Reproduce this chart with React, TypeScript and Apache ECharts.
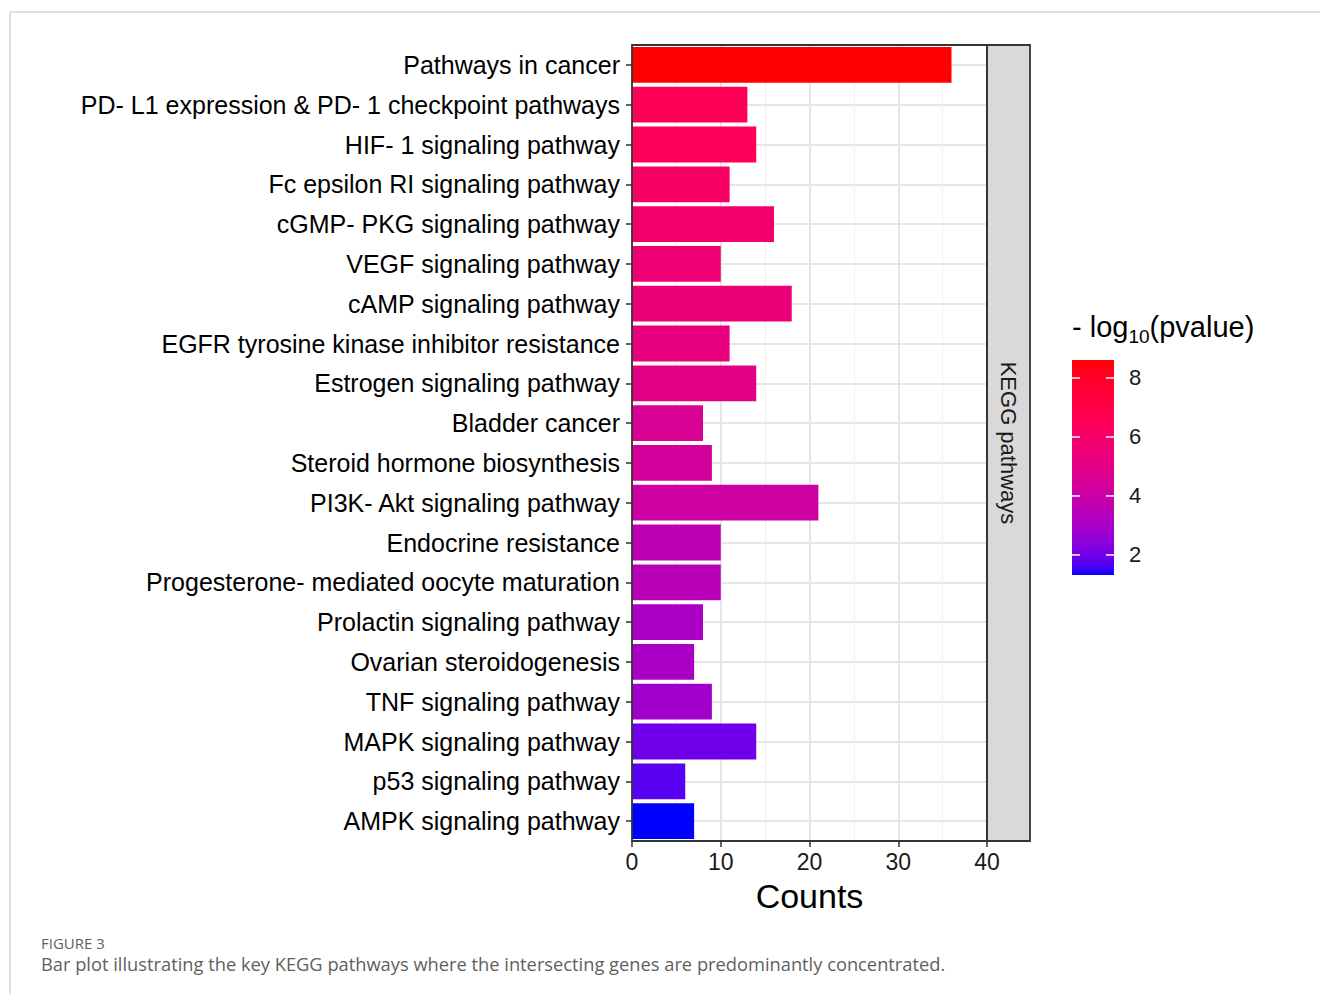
import React, { useEffect, useRef } from "react";
import * as echarts from "echarts";

// KEGG pathways, top to bottom
const pathways = [
  "Pathways in cancer",
  "PD- L1 expression & PD- 1 checkpoint pathways",
  "HIF- 1 signaling pathway",
  "Fc epsilon RI signaling pathway",
  "cGMP- PKG signaling pathway",
  "VEGF signaling pathway",
  "cAMP signaling pathway",
  "EGFR tyrosine kinase inhibitor resistance",
  "Estrogen signaling pathway",
  "Bladder cancer",
  "Steroid hormone biosynthesis",
  "PI3K- Akt signaling pathway",
  "Endocrine resistance",
  "Progesterone- mediated oocyte maturation",
  "Prolactin signaling pathway",
  "Ovarian steroidogenesis",
  "TNF signaling pathway",
  "MAPK signaling pathway",
  "p53 signaling pathway",
  "AMPK signaling pathway",
];
const counts = [36, 13, 14, 11, 16, 10, 18, 11, 14, 8, 9, 21, 10, 10, 8, 7, 9, 14, 6, 7];
const negLog10P = [
  8.61, 6.66, 6.5, 6.13, 5.88, 5.62, 5.44, 5.26, 5.06, 4.6, 4.35, 4.16, 3.65, 3.47, 3.11,
  3.07, 2.85, 1.98, 1.72, 1.32,
];
const countMin = 0;
const countMax = 40;
const countStep = 10;
const legendTicks = [2, 4, 6, 8];

const FONT = "'Liberation Sans', Arial, Helvetica, sans-serif";
const CAPTION_FONT = "'Open Sans', sans-serif";

// blue -> red gradient interpolated in CIELAB, with a slightly warmed red channel
const LAB_LOW = [32.303, 79.197, -107.864];
const LAB_HIGH = [53.241, 80.092, 67.203];
const RED_GAIN = 1.12;

function labToHex(lab: number[]): string {
  const [L, a, b] = lab;
  const fy = (L + 16) / 116;
  const fx = fy + a / 500;
  const fz = fy - b / 200;
  const inv = (f: number) => (f * f * f > 0.008856 ? f * f * f : (f - 16 / 116) / 7.787);
  const X = 0.95047 * inv(fx);
  const Y = inv(fy);
  const Z = 1.08883 * inv(fz);
  const lin = [
    3.2406 * X - 1.5372 * Y - 0.4986 * Z,
    -0.9689 * X + 1.8758 * Y + 0.0415 * Z,
    0.0557 * X - 0.204 * Y + 1.057 * Z,
  ];
  const hex = lin
    .map((c, k) => {
      const v = Math.min(1, Math.max(0, c));
      const s = v <= 0.0031308 ? 12.92 * v : 1.055 * Math.pow(v, 1 / 2.4) - 0.055;
      const byte = Math.min(255, Math.round(s * 255 * (k === 0 ? RED_GAIN : 1)));
      return byte.toString(16).padStart(2, "0");
    })
    .join("");
  return "#" + hex;
}

const RAMP_STEPS = 33;
const ramp: string[] = [];
for (let i = 0; i < RAMP_STEPS; i++) {
  const t = i / (RAMP_STEPS - 1);
  ramp.push(labToHex(LAB_LOW.map((v, k) => v + (LAB_HIGH[k] - v) * t)));
}

const pMin = Math.min(...negLog10P);
const pMax = Math.max(...negLog10P);

// layout
const G_LEFT = 632;
const G_TOP = 45;
const G_W = 355;
const G_H = 796;
const STRIP_W = 43;
const LEG_X = 1072;
const LEG_Y = 360;
const LEG_W = 42;
const LEG_H = 215;

export default function App() {
  const ref = useRef<HTMLDivElement>(null);

  useEffect(() => {
    if (!ref.current) return;
    const chart = echarts.init(ref.current, null, { renderer: "svg" });

    const legendY = (v: number) => LEG_Y + LEG_H - ((v - pMin) / (pMax - pMin)) * LEG_H;

    const legendGraphics: any[] = [
      {
        type: "rect",
        shape: { x: LEG_X, y: LEG_Y, width: LEG_W, height: LEG_H },
        style: {
          fill: new echarts.graphic.LinearGradient(
            0,
            1,
            0,
            0,
            ramp.map((c, i) => ({ offset: i / (ramp.length - 1), color: c }))
          ),
        },
      },
    ];
    legendTicks.forEach((v) => {
      const y = legendY(v);
      legendGraphics.push(
        {
          type: "line",
          shape: { x1: LEG_X, y1: y, x2: LEG_X + 8, y2: y },
          style: { stroke: "#ffffff", lineWidth: 1.5 },
        },
        {
          type: "line",
          shape: { x1: LEG_X + LEG_W - 8, y1: y, x2: LEG_X + LEG_W, y2: y },
          style: { stroke: "#ffffff", lineWidth: 1.5 },
        },
        {
          type: "text",
          x: LEG_X + LEG_W + 15,
          y,
          style: {
            text: String(v),
            fontSize: 22,
            fontFamily: FONT,
            fill: "#1a1a1a",
            verticalAlign: "middle",
            align: "left",
          },
        }
      );
    });

    chart.setOption({
      animation: false,
      backgroundColor: "#ffffff",
      grid: { left: G_LEFT, top: G_TOP, width: G_W, height: G_H, containLabel: false },
      visualMap: {
        type: "continuous",
        show: false,
        min: pMin,
        max: pMax,
        dimension: 2,
        seriesIndex: 0,
        inRange: { color: ramp },
      },
      xAxis: {
        type: "value",
        min: countMin,
        max: countMax,
        interval: countStep,
        axisLine: { show: false },
        axisTick: { show: true, length: 6, lineStyle: { color: "#333333", width: 1.5 } },
        axisLabel: { fontSize: 23, color: "#1a1a1a", fontFamily: FONT, margin: 9 },
        splitLine: { show: true, lineStyle: { color: "#E6E6E6", width: 2 } },
        minorTick: { show: false, splitNumber: 2 },
        minorSplitLine: { show: true, lineStyle: { color: "#EFEFEF", width: 1 } },
        name: "Counts",
        nameLocation: "middle",
        nameGap: 38,
        nameTextStyle: { fontSize: 34, color: "#000000", fontFamily: FONT },
      },
      yAxis: {
        type: "category",
        data: pathways,
        inverse: true,
        axisLine: { show: false },
        axisTick: {
          show: true,
          alignWithLabel: true,
          length: 6,
          lineStyle: { color: "#333333", width: 1.5 },
        },
        axisLabel: { fontSize: 25, color: "#000000", fontFamily: FONT, margin: 12 },
        splitLine: {
          show: true,
          alignWithLabel: true,
          lineStyle: { color: "#E6E6E6", width: 2 },
        },
      },
      series: [
        {
          type: "bar",
          data: pathways.map((p, i) => [counts[i], p, negLog10P[i]]),
          encode: { x: 0, y: 1 },
          barCategoryGap: "10%",
          z: 3,
        },
      ],
      graphic: [
        // figure frame
        {
          type: "line",
          shape: { x1: 10, y1: 12, x2: 1320, y2: 12 },
          style: { stroke: "#D6D6D6", lineWidth: 1.5 },
        },
        {
          type: "line",
          shape: { x1: 10, y1: 12, x2: 10, y2: 994 },
          style: { stroke: "#D6D6D6", lineWidth: 1.5 },
        },
        // facet strip
        {
          type: "rect",
          shape: { x: G_LEFT + G_W, y: G_TOP, width: STRIP_W, height: G_H },
          style: { fill: "#D9D9D9", stroke: "#333333", lineWidth: 1.8 },
          z: 10,
        },
        {
          type: "text",
          x: G_LEFT + G_W + STRIP_W / 2,
          y: G_TOP + G_H / 2,
          rotation: -Math.PI / 2,
          style: {
            text: "KEGG pathways",
            fontSize: 22,
            fontFamily: FONT,
            fill: "#1a1a1a",
            align: "center",
            verticalAlign: "middle",
          },
          z: 11,
        },
        // panel border
        {
          type: "rect",
          shape: { x: G_LEFT, y: G_TOP, width: G_W, height: G_H },
          style: { fill: "none", stroke: "#333333", lineWidth: 1.8 },
          z: 10,
        },
        // colour bar title
        {
          type: "text",
          x: LEG_X,
          y: 312,
          style: {
            text: "{m|- log}{s|10}{m|(pvalue)}",
            fontFamily: FONT,
            fill: "#000000",
            rich: {
              m: { fontSize: 29, fontFamily: FONT, lineHeight: 30, verticalAlign: "top" },
              s: {
                fontSize: 19,
                fontFamily: FONT,
                lineHeight: 19,
                padding: [15, 0, 0, 0],
                verticalAlign: "top",
              },
            },
          },
        },
        ...legendGraphics,
        // caption
        {
          type: "text",
          x: 41,
          y: 943,
          style: {
            text: "FIGURE 3",
            fontSize: 15,
            fontFamily: CAPTION_FONT,
            fill: "#5f5f5f",
            verticalAlign: "middle",
          },
        },
        {
          type: "text",
          x: 41,
          y: 963,
          style: {
            text: "Bar plot illustrating the key KEGG pathways where the intersecting genes are predominantly concentrated.",
            fontSize: 18.3,
            fontFamily: CAPTION_FONT,
            fill: "#5f5f5f",
            verticalAlign: "middle",
          },
        },
      ],
    });

    return () => chart.dispose();
  }, []);

  return (
    <div
      ref={ref}
      style={{ position: "fixed", left: 0, top: 0, width: 1320, height: 994, background: "#fff" }}
    />
  );
}
